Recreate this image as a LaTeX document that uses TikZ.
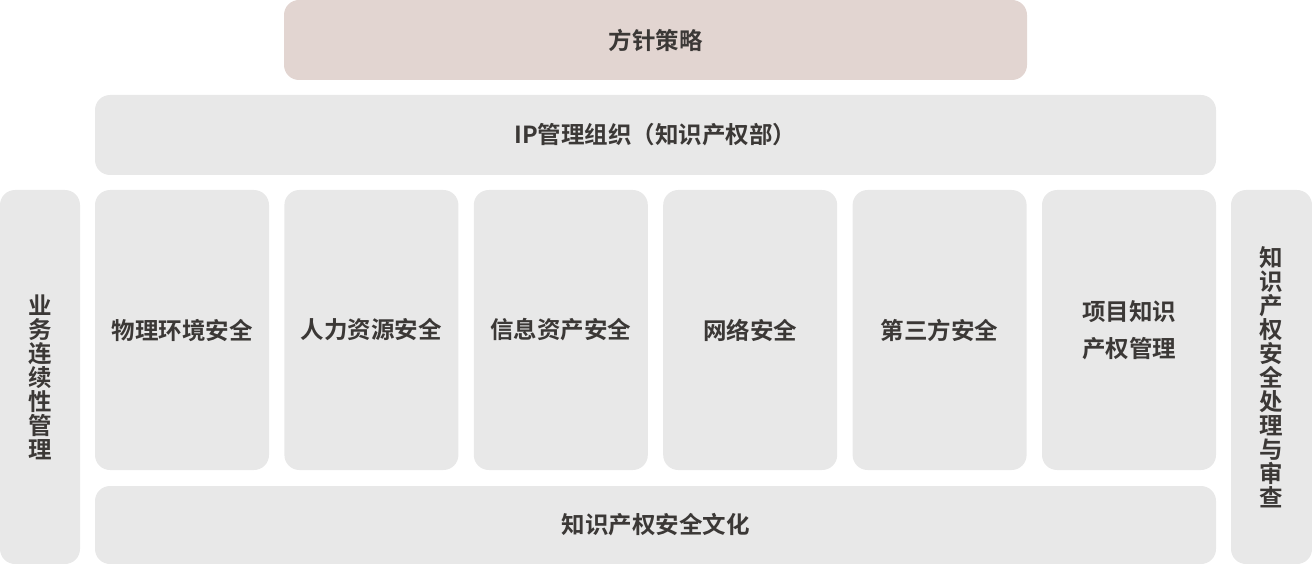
\documentclass[tikz,border=0pt]{standalone}
\usepackage{fontspec}
\usepackage{xcolor}
\usepackage{tikz}
\usetikzlibrary{positioning}
\newfontfamily\cjkbold{Noto Sans CJK SC Bold}
\definecolor{tilegray}{HTML}{E8E8E8}
\definecolor{tilerose}{HTML}{E2D5D1}
\definecolor{inkgray}{HTML}{3B3836}

\begin{document}
\begin{tikzpicture}[
    x=1pt, y=1pt,
    tile/.style={rectangle, fill=tilegray, draw=none, rounded corners=15pt, inner sep=0pt, outer sep=0pt, text=inkgray, align=center, font=\cjkbold\fontsize{23.5}{23.5}\selectfont},
    pillar/.style={tile, minimum width=174pt, minimum height=280pt},
    side/.style={tile, minimum height=374pt, font=\cjkbold\fontsize{23.5}{24}\selectfont}
]
    \useasboundingbox (0,0) rectangle (1312,-564);

    % Top rows
    \node [tile, fill=tilerose, minimum width=743pt, minimum height=80pt] (strategy) at (655.5,-40) {方针策略};
    \node [tile, minimum width=1121pt, minimum height=80pt, below=15pt of strategy] (iporg) {IP管理组织（知识产权部）};

    % Pillars
    \node [pillar, below=15pt of iporg.south west, anchor=north west] (physical) {物理环境安全};
    \node [pillar, right=15.4pt of physical] (human) {人力资源安全};
    \node [pillar, right=15.4pt of human] (asset) {信息资产安全};
    \node [pillar, right=15.4pt of asset] (network) {网络安全};
    \node [pillar, right=15.4pt of network] (thirdparty) {第三方安全};
    \node [pillar, right=15.4pt of thirdparty, font=\cjkbold\fontsize{23.5}{36.6}\selectfont] (project) {项目知识\\产权管理};

    % Base
    \node [tile, minimum width=1121pt, minimum height=78pt, below=16pt of physical.south west, anchor=north west] (culture) {知识产权安全文化};

    % Sides
    \node [side, minimum width=80pt, left=15pt of physical.north west, anchor=north east] (continuity) {业\\务\\连\\续\\性\\管\\理};
    \node [side, minimum width=81pt, right=15pt of project.north east, anchor=north west] (audit) {知\\识\\产\\权\\安\\全\\处\\理\\与\\审\\查};
\end{tikzpicture}
\end{document}
